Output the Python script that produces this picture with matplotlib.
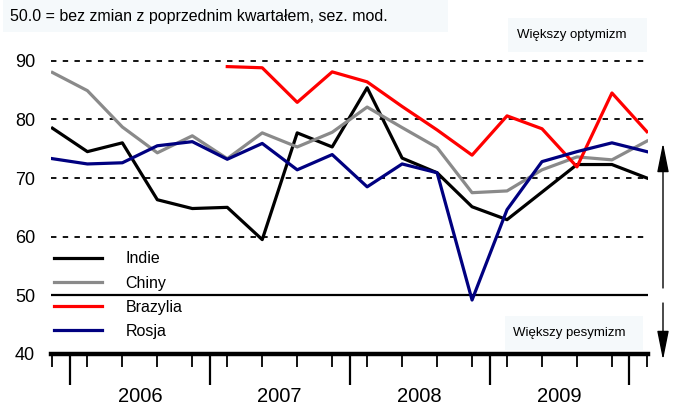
import matplotlib
matplotlib.use('Agg')
import matplotlib.pyplot as plt
from matplotlib.patches import Rectangle, FancyArrowPatch

plt.rcParams['font.family'] = ['Liberation Sans', 'DejaVu Sans']

# kwartaly: IV kw. 2005 ... I kw. 2010
kwartaly = list(range(18))
lata = ['2006', '2007', '2008', '2009']

indie = [78.5, 74.5, 76.0, 66.3, 64.8, 65.0, 59.5, 77.7, 75.3, 85.4,
         73.4, 70.9, 65.1, 62.9, 67.6, 72.3, 72.3, 70.0]
chiny = [88.0, 84.9, 78.7, 74.3, 77.2, 73.3, 77.7, 75.3, 77.8, 82.1,
         78.6, 75.2, 67.5, 67.8, 71.4, 73.6, 73.1, 76.3]
brazylia = [None, None, None, None, None, 89.0, 88.8, 82.9, 88.1, 86.4,
            82.2, 78.2, 73.9, 80.6, 78.4, 71.9, 84.5, 77.9]
rosja = [73.3, 72.4, 72.6, 75.5, 76.2, 73.2, 75.9, 71.4, 74.0, 68.5,
         72.4, 70.9, 49.2, 64.6, 72.8, 74.5, 76.0, 74.5]

serie = [('Indie', indie, '#000000'),
         ('Chiny', chiny, '#8a8a8a'),
         ('Brazylia', brazylia, '#ff0000'),
         ('Rosja', rosja, '#000080')]

W, H = 673, 405
fig = plt.figure(figsize=(W / 100, H / 100), dpi=100)

# ramki z opisami (pod wykresem)
for x0, y0, x1, y1 in [(3, 0, 448, 32), (508, 18, 647, 52), (505, 316, 643, 350)]:
    fig.patches.append(Rectangle((x0 / W, 1 - y1 / H), (x1 - x0) / W, (y1 - y0) / H,
                                 transform=fig.transFigure, fc='#f5f9fb', ec='none',
                                 zorder=-5, figure=fig))

ax = fig.add_axes([0.0758, 0.126, 0.887, 0.753])
ax.patch.set_visible(False)

# linie pomocnicze
for poz in [60, 70, 80, 90]:
    ax.axhline(poz, color='black', lw=1.3, ls=(0, (3, 3.5)), zorder=1)
ax.axhline(50, color='black', lw=1.6, zorder=1)

for nazwa, wartosci, kolor in serie:
    x = [k for k, v in zip(kwartaly, wartosci) if v is not None]
    y = [v for v in wartosci if v is not None]
    ax.plot(x, y, color=kolor, lw=2.3, label=nazwa, zorder=3)

ax.set_xlim(-0.04, 17.03)
ax.set_ylim(40, 92)

for s in ['top', 'right', 'left']:
    ax.spines[s].set_visible(False)
ax.spines['bottom'].set_linewidth(3.2)

ax.set_yticks([40, 50, 60, 70, 80, 90])
ax.tick_params(axis='y', length=0, pad=11.5, labelsize=13)

ax.set_xticks([0.5, 4.5, 8.5, 12.5, 16.5])
ax.set_xticks(kwartaly, minor=True)
ax.set_xticklabels([])
ax.tick_params(axis='x', which='major', direction='out', length=22, width=1.6)
ax.tick_params(axis='x', which='minor', direction='out', length=9, width=1.3)

for i, rok in enumerate(lata):
    ax.text(2.5 + 4 * i, -0.138, rok, transform=ax.get_xaxis_transform(),
            ha='center', va='center', fontsize=14.5)

ax.legend(loc='upper left', bbox_to_anchor=(-0.006, 0.357), frameon=False,
          handlelength=3.0, handletextpad=1.5, labelspacing=0.57,
          fontsize=11.5, borderaxespad=0)

fig.text(10 / W, 1 - 16 / H, '50.0 = bez zmian z poprzednim kwartałem, sez. mod.',
         fontsize=11.5, va='center', ha='left')
fig.text(517 / W, 1 - 35 / H, 'Większy optymizm', fontsize=9.5, va='center', ha='left')
fig.text(513 / W, 1 - 333 / H, 'Większy pesymizm', fontsize=9.5, va='center', ha='left')

# strzalki
for y_od, y_do in [(288, 143), (303, 360)]:
    fig.add_artist(FancyArrowPatch(
        (663 / W, 1 - y_od / H), (663 / W, 1 - y_do / H), transform=fig.transFigure,
        arrowstyle='-|>,head_length=18,head_width=3.6', lw=1, color='black',
        shrinkA=0, shrinkB=0))

fig.savefig('out.png', dpi=100)
